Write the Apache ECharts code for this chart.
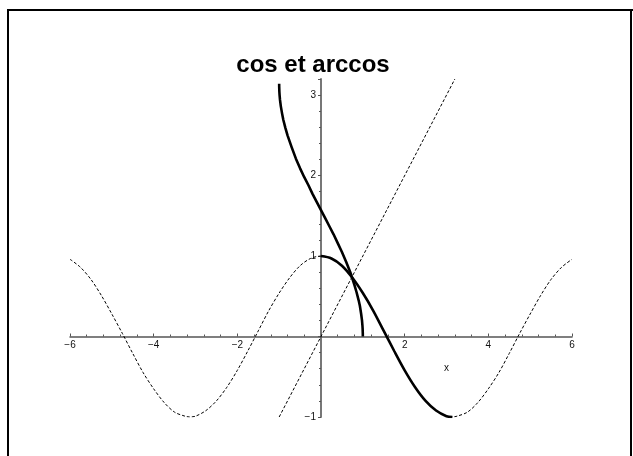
<!DOCTYPE html>
<html>
<head>
<meta charset="utf-8">
<script src="https://cdn.jsdelivr.net/npm/echarts@6/dist/echarts.min.js"></script>
<style>
  html, body { margin: 0; padding: 0; background: #fff; }
  #chart { width: 633px; height: 456px; }
</style>
</head>
<body>
<div id="chart"></div>
<script>
// cos(x) over [-6, 6] (thin dashed)
const cosX = [-6, -5.75, -5.5, -5.25, -5, -4.75, -4.5, -4.25, -4, -3.75, -3.5, -3.25, -3.14, -3, -2.75, -2.5, -2.25, -2, -1.75, -1.5, -1.25, -1, -0.75, -0.5, -0.25,
              0, 0.25, 0.5, 0.75, 1, 1.25, 1.5, 1.75, 2, 2.25, 2.5, 2.75, 3, 3.14, 3.25, 3.5, 3.75, 4, 4.25, 4.5, 4.75, 5, 5.25, 5.5, 5.75, 6];
const cosY = [0.96, 0.86, 0.71, 0.51, 0.28, 0.04, -0.21, -0.45, -0.65, -0.82, -0.94, -0.99, -1, -0.99, -0.92, -0.80, -0.63, -0.42, -0.18, 0.07, 0.32, 0.54, 0.73, 0.88, 0.97,
              1, 0.97, 0.88, 0.73, 0.54, 0.32, 0.07, -0.18, -0.42, -0.63, -0.80, -0.92, -0.99, -1, -0.99, -0.94, -0.82, -0.65, -0.45, -0.21, 0.04, 0.28, 0.51, 0.71, 0.86, 0.96];

// cos(x) restricted to [0, pi] (thick)
const cosRX = [0, 0.25, 0.5, 0.75, 1, 1.25, 1.5, 1.75, 2, 2.25, 2.5, 2.75, 3, 3.14];
const cosRY = [1, 0.97, 0.88, 0.73, 0.54, 0.32, 0.07, -0.18, -0.42, -0.63, -0.80, -0.92, -0.99, -1];

// arccos(x) over [-1, 1] (thick)
const acosX = [-1, -0.999, -0.995, -0.99, -0.98, -0.96, -0.93, -0.9, -0.85, -0.8, -0.7, -0.6, -0.5, -0.4, -0.3, -0.2, -0.1,
               0, 0.1, 0.2, 0.3, 0.4, 0.5, 0.6, 0.7, 0.8, 0.85, 0.9, 0.93, 0.96, 0.98, 0.99, 0.995, 0.999, 1];
const acosY = [3.14, 3.10, 3.04, 3.00, 2.94, 2.86, 2.77, 2.69, 2.59, 2.50, 2.35, 2.21, 2.09, 1.98, 1.88, 1.77, 1.67,
               1.57, 1.47, 1.37, 1.27, 1.16, 1.05, 0.93, 0.80, 0.64, 0.55, 0.45, 0.38, 0.28, 0.20, 0.14, 0.10, 0.04, 0];

// the line y = x (thin dashed)
const diagX = [-1, 3.2];
const diagY = [-1, 3.2];

// labelled ticks (0 is left unlabelled on both axes)
const xTicks = [-6, -4, -2, 2, 4, 6];
const yTicks = [-1, 1, 2, 3];

const pairs = (xs, ys) => xs.map((x, i) => [x, ys[i]]);
const minus = v => String(v).replace('-', '\u2212');

const chart = echarts.init(document.getElementById('chart'), null, { renderer: 'canvas' });

const FONT = '"Liberation Sans", Arial, sans-serif';

chart.setOption({
  animation: false,
  backgroundColor: '#fff',
  grid: { left: 70, right: 61, top: 79, bottom: 39, outerBoundsMode: 'none', containLabel: false },
  xAxis: {
    type: 'value', min: -6, max: 6, interval: 2,
    axisLine: { onZero: true, lineStyle: { color: '#555', width: 1.5 } },
    axisTick: { inside: true, length: 3, lineStyle: { color: '#555', width: 1 } },
    minorTick: { show: true, splitNumber: 5, length: 2, lineStyle: { color: '#555', width: 1 } },
    splitLine: { show: false },
    axisLabel: { show: false }
  },
  yAxis: {
    type: 'value', min: -1, max: 3.2, interval: 1,
    axisLine: { onZero: true, lineStyle: { color: '#777', width: 2 } },
    axisTick: { inside: false, length: 3, lineStyle: { color: '#555', width: 1 } },
    minorTick: { show: true, splitNumber: 5, length: 2, lineStyle: { color: '#555', width: 1 } },
    splitLine: { show: false },
    axisLabel: { show: false }
  },
  series: [
    {
      type: 'line', data: pairs(cosX, cosY), showSymbol: false, smooth: 0.3,
      lineStyle: { color: '#000', width: 1, type: [3, 2] }, z: 2
    },
    {
      type: 'line', data: pairs(diagX, diagY), showSymbol: false,
      lineStyle: { color: '#000', width: 1, type: [3, 2] }, z: 2
    },
    {
      type: 'line', data: pairs(cosRX, cosRY), showSymbol: false, smooth: 0.3,
      lineStyle: { color: '#000', width: 2.6 }, z: 3
    },
    {
      type: 'line', data: pairs(acosX, acosY), showSymbol: false,
      lineStyle: { color: '#000', width: 2.6, join: 'round' }, z: 3
    }
  ]
});

// tick labels sit next to the axis lines crossing at the origin
const toPx = p => chart.convertToPixel({ gridIndex: 0 }, p);
const origin = toPx([0, 0]);
const labels = [];
xTicks.forEach(v => {
  const p = toPx([v, 0]);
  labels.push({
    type: 'text', x: p[0], y: origin[1] + 4, z: 10,
    style: { text: minus(v), font: '10px ' + FONT, fill: '#111', textAlign: 'center', textVerticalAlign: 'top' }
  });
});
yTicks.forEach(v => {
  const p = toPx([0, v]);
  labels.push({
    type: 'text', x: origin[0] - 5, y: p[1], z: 10,
    style: { text: minus(v), font: '10px ' + FONT, fill: '#111', textAlign: 'right', textVerticalAlign: 'middle' }
  });
});

// axis name "x" just below the x-axis, near x = 3
const namePos = toPx([3, -0.4]);

chart.setOption({
  graphic: [
    { type: 'line', shape: { x1: 7, y1: 10, x2: 633, y2: 10 }, style: { stroke: '#000', lineWidth: 2 } },
    { type: 'line', shape: { x1: 8, y1: 10, x2: 8, y2: 456 }, style: { stroke: '#000', lineWidth: 2 } },
    { type: 'line', shape: { x1: 631, y1: 10, x2: 631, y2: 456 }, style: { stroke: '#000', lineWidth: 2 } },
    {
      type: 'text', x: 313, y: 77,
      style: { text: 'cos et arccos', font: 'bold 24px ' + FONT, fill: '#000', textAlign: 'center', textVerticalAlign: 'bottom' }
    },
    {
      type: 'text', x: namePos[0], y: namePos[1],
      style: { text: 'x', font: '10px ' + FONT, fill: '#111', textAlign: 'center', textVerticalAlign: 'middle' }
    }
  ].concat(labels)
});
</script>
</body>
</html>
